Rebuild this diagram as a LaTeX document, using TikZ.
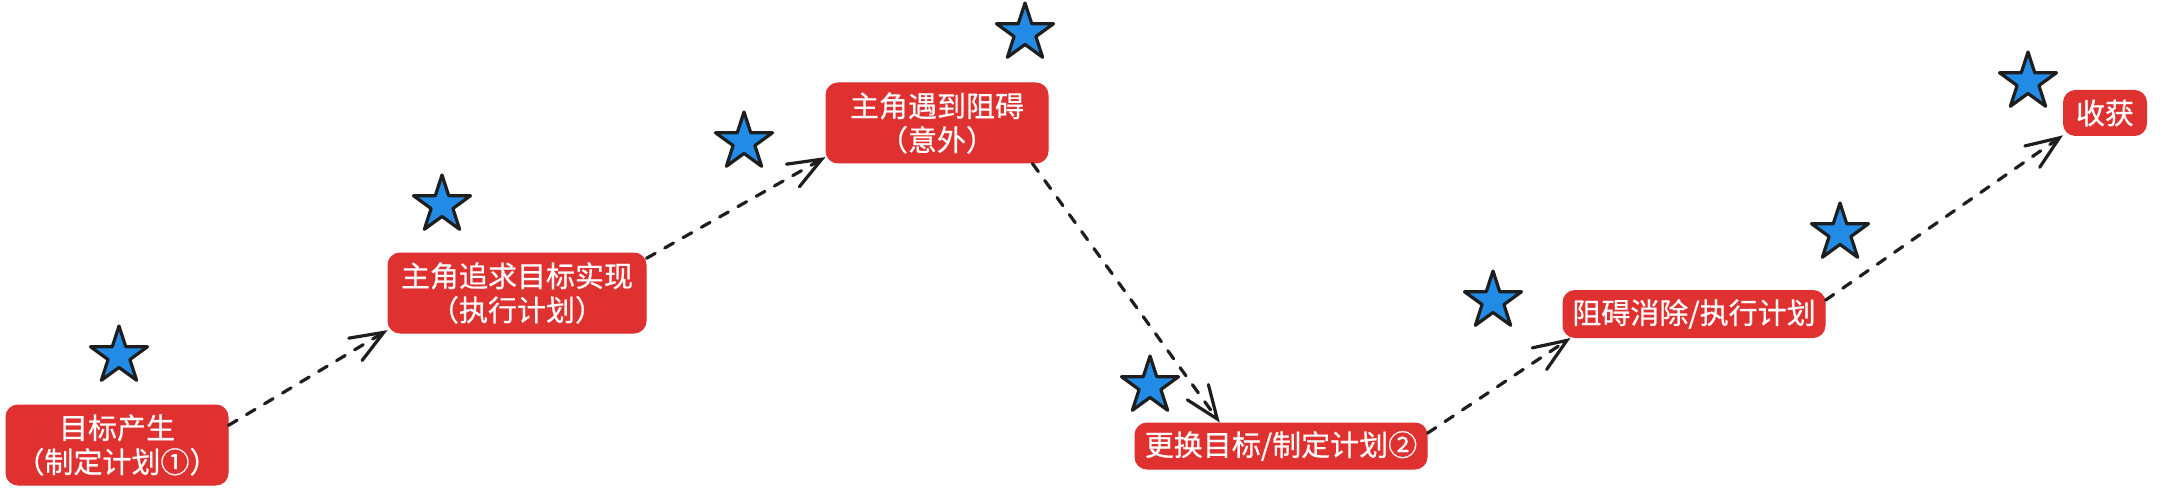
\documentclass[tikz,border=0pt]{standalone}
\usepackage{fontspec}
\newfontfamily\cjk[FakeBold=0.6]{Noto Sans CJK SC}
\usetikzlibrary{shapes.geometric,arrows.meta}
\definecolor{boxred}{HTML}{E03131}
\definecolor{starblue}{HTML}{228BE6}
\definecolor{ink}{HTML}{1E1E1E}
\tikzset{
  stagebox/.style={fill=boxred, draw=boxred, line width=1pt, rounded corners=12pt,
    text=white, align=center, inner sep=0pt,
    font=\cjk\fontsize{29}{34}\selectfont},
  bluestar/.style={star, star points=5, star point ratio=2.618, minimum size=60pt,
    inner sep=0pt, fill=starblue, draw=ink, line width=3.2pt, line join=round},
  flow/.style={draw=ink, line width=3.2pt, line cap=round, dash pattern=on 10pt off 11pt,
    -{Straight Barb[length=33pt,width=26pt,line width=3.2pt,line cap=round]}},
}
\begin{document}
\begin{tikzpicture}[x=1pt,y=-1pt]
\useasboundingbox[fill=white] (0,0) rectangle (2163,489);
% boxes
\node[stagebox, minimum width=222pt, minimum height=80pt] (n1) at (117,445) {目标产生\\（制定计划①）};
\node[stagebox, minimum width=258pt, minimum height=80pt] (n2) at (517,293) {主角追求目标实现\\（执行计划）};
\node[stagebox, minimum width=222pt, minimum height=80pt] (n3) at (937,123) {主角遇到阻碍\\（意外）};
\node[stagebox, minimum width=292pt, minimum height=46pt] (n4) at (1281,446) {更换目标/制定计划②};
\node[stagebox, minimum width=262pt, minimum height=47pt] (n5) at (1694,314) {阻碍消除/执行计划};
\node[stagebox, minimum width=83pt, minimum height=45pt] (n6) at (2105,113) {收获};
% stars
\node[bluestar] (s1) at (119,356) {};
\node[bluestar] (s2) at (442,205) {};
\node[bluestar] (s3) at (744,142) {};
\node[bluestar] (s4) at (1025,33) {};
\node[bluestar] (s5) at (1150,386) {};
\node[bluestar] (s6) at (1493,301) {};
\node[bluestar] (s7) at (1840,233) {};
\node[bluestar] (s8) at (2028,82) {};
% connectors
\draw[flow] (n1.10) -- (n2.196);
\draw[flow] (n2.15) -- (n3.197);
\draw[flow] (n3.337) -- (n4.159);
\draw[flow] (n4.5) -- (n5.191);
\draw[flow] (n5.6) -- (n6.208);
\end{tikzpicture}
\end{document}
